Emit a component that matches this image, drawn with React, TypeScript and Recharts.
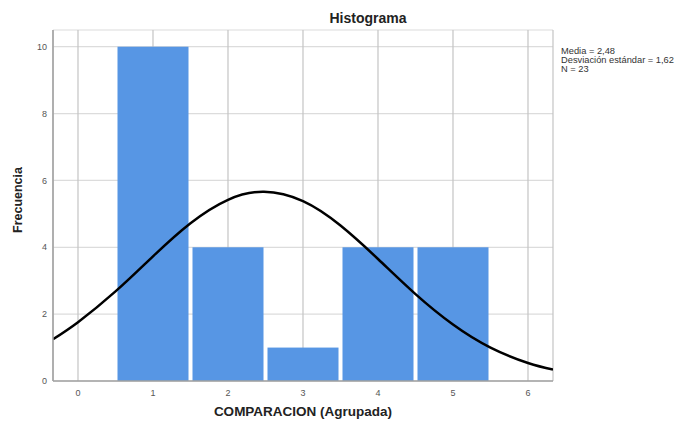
import React from 'react';
import { ComposedChart, Line, XAxis, YAxis, CartesianGrid, ReferenceArea } from 'recharts';

// histogram bins (COMPARACION agrupada) and frequencies
const bins = [1, 2, 3, 4, 5];
const counts = [10, 4, 1, 4, 4];

// normal curve (Media 2,48, DE 1,62, N 23)
const curveX = [-0.333, 0, 0.5, 1, 1.5, 2, 2.48, 3, 3.5, 4, 4.5, 5, 5.5, 6, 6.333];
const curveY = [1.25, 1.76, 2.68, 3.73, 4.72, 5.42, 5.66, 5.38, 4.65, 3.65, 2.6, 1.69, 1.0, 0.54, 0.34];

const xTicks = [0, 1, 2, 3, 4, 5, 6];
const yTicks = [0, 2, 4, 6, 8, 10];

const statsLines = ['Media = 2,48', 'Desviación estándar = 1,62', 'N = 23'];

const curveData = curveX.map((x, i) => ({ x, y: curveY[i] }));

const FONT = '"Liberation Sans", Arial, sans-serif';

// bar with a small white gap on both sides, like SPSS draws it
const BinShape = (props: any) => {
  const { x, y, width, height } = props;
  return <rect x={x + 2} y={y} width={Math.max(0, width - 4)} height={height} fill="#5796e4" />;
};

const App: React.FC = () => {
  return (
    <div style={{ position: 'absolute', left: 0, top: 0, width: 677, height: 426, background: '#fff', fontFamily: FONT }}>
      <ComposedChart
        width={677}
        height={426}
        data={curveData}
        margin={{ top: 30, right: 124, bottom: 15, left: 13 }}
      >
        <CartesianGrid horizontal={true} vertical={false} stroke="#dcdcdc" strokeWidth={1.2} />
        <CartesianGrid horizontal={false} vertical={true} stroke="#c4c4c4" strokeWidth={1.2} />
        <XAxis
          dataKey="x"
          type="number"
          domain={[-1 / 3, 19 / 3]}
          ticks={xTicks}
          allowDataOverflow
          height={30}
          tickLine={false}
          tickSize={0}
          tickMargin={9}
          stroke="#a0a0a0"
          strokeWidth={1.5}
          tick={{ fill: '#555', fontSize: 9, fontFamily: FONT }}
        />
        <YAxis
          type="number"
          domain={[0, 10.5]}
          ticks={yTicks}
          allowDataOverflow
          width={40}
          tickLine={false}
          tickSize={0}
          tickMargin={6}
          stroke="#a0a0a0"
          strokeWidth={1.5}
          tick={{ fill: '#555', fontSize: 9, fontFamily: FONT }}
        />
        {bins.map((b, i) => (
          <ReferenceArea
            key={b}
            x1={b - 0.5}
            x2={b + 0.5}
            y1={0}
            y2={counts[i]}
            fill="#5796e4"
            fillOpacity={1}
            shape={BinShape}
            ifOverflow="visible"
          />
        ))}
        <Line
          dataKey="y"
          type="natural"
          stroke="#000"
          strokeWidth={2.5}
          dot={false}
          activeDot={false}
          isAnimationActive={false}
        />
      </ComposedChart>
      <div style={{ position: 'absolute', left: 268, width: 200, top: 9.5, textAlign: 'center', fontWeight: 'bold', fontSize: 14, color: '#222' }}>
        Histograma
      </div>
      <div style={{ position: 'absolute', left: 0, width: 606, top: 404, textAlign: 'center', fontWeight: 'bold', fontSize: 13.5, color: '#222' }}>
        COMPARACION (Agrupada)
      </div>
      <div
        style={{
          position: 'absolute',
          left: 18,
          top: 200,
          transform: 'translate(-50%, -50%) rotate(-90deg)',
          fontWeight: 'bold',
          fontSize: 12.5,
          color: '#222',
          whiteSpace: 'nowrap',
        }}
      >
        Frecuencia
      </div>
      <div style={{ position: 'absolute', left: 561, top: 47, fontSize: 9.3, lineHeight: '9px', color: '#333' }}>
        {statsLines.map((s) => (
          <div key={s}>{s}</div>
        ))}
      </div>
    </div>
  );
};

export default App;
